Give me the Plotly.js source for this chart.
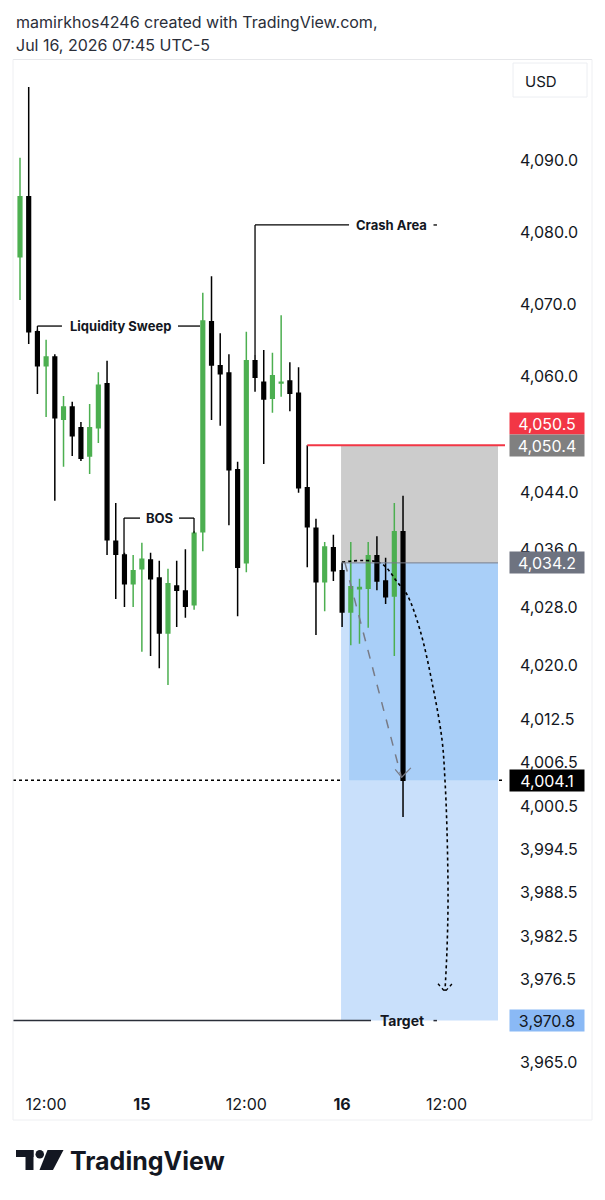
<!DOCTYPE html>
<html><head><meta charset="utf-8">
<script src="https://cdn.plot.ly/plotly-3.0.1.min.js"></script>
<style>html,body{margin:0;padding:0;background:#fff}#chart{width:605px;height:1200px}</style>
</head><body><div id="chart"></div>
<script>
// ---- Data (hourly candles) ----
const candleIndex = [0,1,2,3,4,5,6,7,8,9,10,11,12,13,14,15,16,17,18,19,20,21,22,23,24,25,26,27,28,29,30,31,32,33,34,35,36,37,38,39,40,41,42,43,44];
const openP  = [4076.6,4084.9,4066.2,4061.5,4062.7,4054.1,4055.8,4052.9,4049.0,4052.9,4059.0,4037.2,4035.3,4031.3,4033.4,4034.6,4032.1,4024.5,4031.0,4030.3,4028.4,4038.5,4067.6,4061.5,4060.5,4047.1,4034.2,4062.2,4059.2,4057.0,4059.1,4059.4,4057.7,4044.6,4039.0,4031.6,4036.3,4033.1,4027.4,4030.6,4030.7,4035.2,4031.7,4029.6,4038.5];
const highP  = [4090.3,4100.1,4066.5,4065.1,4063.1,4057.3,4056.5,4053.7,4056.2,4060.6,4062.2,4042.5,4035.6,4035.3,4037.0,4035.6,4034.5,4033.4,4034.5,4036.1,4038.6,4071.6,4073.9,4066.0,4063.1,4048.2,4066.2,4063.0,4063.7,4063.3,4068.5,4062.0,4061.3,4050.5,4040.3,4037.1,4038.1,4034.2,4037.1,4032.0,4037.1,4037.9,4034.9,4042.5,4043.5];
const lowP   = [4070.6,4064.5,4057.6,4054.4,4042.8,4047.5,4049.0,4048.3,4046.5,4050.8,4035.3,4029.2,4028.1,4028.1,4021.9,4021.3,4019.6,4017.3,4025.3,4026.6,4027.7,4035.8,4054.0,4053.2,4039.4,4026.8,4032.9,4057.9,4047.9,4055.0,4057.2,4055.2,4043.9,4033.6,4024.2,4027.5,4031.7,4025.3,4022.8,4023.0,4025.2,4030.4,4028.5,4021.3,3999.0];
const closeP = [4084.9,4066.2,4061.5,4062.7,4054.3,4055.8,4051.8,4048.7,4052.9,4058.8,4037.4,4035.4,4031.3,4033.1,4034.7,4032.0,4024.5,4031.3,4030.4,4028.2,4038.3,4067.7,4061.6,4060.4,4047.1,4033.6,4062.2,4059.9,4056.9,4060.1,4059.2,4057.7,4044.6,4039.2,4031.6,4036.4,4033.1,4027.4,4030.9,4030.8,4035.2,4031.7,4029.5,4038.5,4004.1];

const timeTickVals = [3,14,26,37,49];
const timeTickText = ['12:00','<b>15</b>','12:00','<b>16</b>','12:00'];

const priceTickVals = [4090,4080,4070,4060,4044,4036,4028,4020,4012.5,4006.5,4000.5,3994.5,3988.5,3982.5,3976.5,3965];
const priceTickText = ['4,090.0','4,080.0','4,070.0','4,060.0','4,044.0','4,036.0','4,028.0','4,020.0','4,012.5','4,006.5','4,000.5','3,994.5','3,988.5','3,982.5','3,976.5','3,965.0'];

// Position tool levels
const alertPrice = 4050.5;
const stopPrice = 4050.4;
const entryPrice = 4034.2;
const lastPrice = 4004.1;
const targetPrice = 3970.8;
const toolStart = 36.88, toolFill = 37.8, toolEnd = 54.91;

// Hand-drawn projection paths (index, price)
const curveX = [36.99,41.36,43.42,44.46,45.95,47.44,48.48,48.82,49.05,49.17,49.05,48.82];
const curveY = [4034.3,4034.2,4031.4,4029.8,4024.9,4017.0,4009.7,4004.1,3997.2,3987.5,3980.6,3974.9];
const curveHeadX = [48.02,48.82,49.63];
const curveHeadY = [3975.9,3974.8,3975.9];
const dashX = [37.33,43.77];
const dashY = [4034.2,4004.7];
const dashHeadX = [43.1,43.85,44.9];
const dashHeadY = [4005.6,4004.5,4005.8];

// Labels
const sweepLevel = 4067.0, bosLevel = 4040.4, crashLevel = 4081.0;

// ---- Chart ----
const INK = '#131722';
const FONT = 'Inter, Roboto, sans-serif';
const px2x = p => (p - 13) / 492;
const py2y = p => (1085 - p) / 1025;

const traces = [
  {
    type: 'candlestick', x: candleIndex, open: openP, high: highP, low: lowP, close: closeP,
    increasing: {line: {color: '#4caf50', width: 1.5}, fillcolor: '#4caf50'},
    decreasing: {line: {color: '#000000', width: 1.5}, fillcolor: '#000000'},
    whiskerwidth: 0, hoverinfo: 'skip', showlegend: false
  },
  {type: 'scatter', mode: 'lines', x: dashX, y: dashY, line: {color: '#787b86', width: 1.5, dash: 'dash'}, hoverinfo: 'skip', showlegend: false},
  {type: 'scatter', mode: 'lines', x: dashHeadX, y: dashHeadY, line: {color: '#787b86', width: 1.2}, hoverinfo: 'skip', showlegend: false},
  {type: 'scatter', mode: 'lines', x: curveX, y: curveY, line: {color: '#000000', width: 1.6, dash: 'dot', shape: 'spline', smoothing: 1}, hoverinfo: 'skip', showlegend: false},
  {type: 'scatter', mode: 'lines', x: curveHeadX, y: curveHeadY, line: {color: '#000000', width: 1.4, dash: 'dot'}, hoverinfo: 'skip', showlegend: false}
];

const shapes = [
  // position tool boxes
  {type: 'rect', xref: 'x', yref: 'y', x0: toolStart, x1: toolEnd, y0: entryPrice, y1: stopPrice, fillcolor: '#cccccc', line: {width: 0}, layer: 'below'},
  {type: 'rect', xref: 'x', yref: 'y', x0: toolStart, x1: toolEnd, y0: targetPrice, y1: entryPrice, fillcolor: '#c9e0fb', line: {width: 0}, layer: 'below'},
  {type: 'rect', xref: 'x', yref: 'y', x0: toolFill, x1: toolEnd, y0: lastPrice, y1: entryPrice, fillcolor: '#a9cff8', line: {width: 0}, layer: 'below'},
  {type: 'line', xref: 'x', yref: 'y', x0: toolStart, x1: toolEnd, y0: entryPrice, y1: entryPrice, line: {color: '#787b86', width: 1}},
  // alert line
  {type: 'line', xref: 'x', yref: 'y', x0: 33, x1: 55.72, y0: alertPrice, y1: alertPrice, line: {color: '#f23645', width: 2}},
  // last price dotted line
  {type: 'line', xref: 'paper', yref: 'y', x0: 0, x1: 1, y0: lastPrice, y1: lastPrice, line: {color: '#000000', width: 1.4, dash: 'dot'}, layer: 'below'},
  // target line
  {type: 'line', xref: 'paper', yref: 'y', x0: 0, x1: px2x(371), y0: targetPrice, y1: targetPrice, line: {color: '#2a2e39', width: 1.5}},
  {type: 'line', xref: 'x', yref: 'y', x0: 47.5, x1: 47.9, y0: targetPrice, y1: targetPrice, line: {color: '#2a2e39', width: 1.5}},
  // liquidity sweep bracket
  {type: 'line', xref: 'x', yref: 'y', x0: 2.0, x1: 2.0, y0: 4066.3, y1: sweepLevel, line: {color: '#000', width: 1.3}},
  {type: 'line', xref: 'x', yref: 'y', x0: 2.0, x1: 4.82, y0: sweepLevel, y1: sweepLevel, line: {color: '#000', width: 1.3}},
  {type: 'line', xref: 'x', yref: 'y', x0: 18.15, x1: 20.68, y0: sweepLevel, y1: sweepLevel, line: {color: '#000', width: 1.3}},
  // BOS bracket
  {type: 'line', xref: 'x', yref: 'y', x0: 11.95, x1: 11.95, y0: 4035.3, y1: bosLevel, line: {color: '#000', width: 1.3}},
  {type: 'line', xref: 'x', yref: 'y', x0: 11.95, x1: 13.79, y0: bosLevel, y1: bosLevel, line: {color: '#000', width: 1.3}},
  {type: 'line', xref: 'x', yref: 'y', x0: 18.27, x1: 19.99, y0: bosLevel, y1: bosLevel, line: {color: '#000', width: 1.3}},
  {type: 'line', xref: 'x', yref: 'y', x0: 19.99, x1: 19.99, y0: 4038.3, y1: bosLevel, line: {color: '#000', width: 1.3}},
  // crash area bracket
  {type: 'line', xref: 'x', yref: 'y', x0: 27.0, x1: 27.0, y0: 4063.0, y1: crashLevel, line: {color: '#000', width: 1.3}},
  {type: 'line', xref: 'x', yref: 'y', x0: 27.0, x1: 37.8, y0: crashLevel, y1: crashLevel, line: {color: '#000', width: 1.3}},
  {type: 'line', xref: 'x', yref: 'y', x0: 47.5, x1: 47.9, y0: crashLevel, y1: crashLevel, line: {color: '#000', width: 1.3}},
  // frame
  {type: 'line', xref: 'paper', yref: 'paper', x0: 0, x1: px2x(592), y0: py2y(59.5), y1: py2y(59.5), line: {color: '#e6e7ea', width: 1}},
  {type: 'line', xref: 'paper', yref: 'paper', x0: 0, x1: 0, y0: py2y(59.5), y1: py2y(1120), line: {color: '#eeeff2', width: 1}},
  {type: 'line', xref: 'paper', yref: 'paper', x0: px2x(592), x1: px2x(592), y0: py2y(59.5), y1: py2y(1120), line: {color: '#eeeff2', width: 1}},
  {type: 'line', xref: 'paper', yref: 'paper', x0: 0, x1: px2x(592), y0: py2y(1120), y1: py2y(1120), line: {color: '#eeeff2', width: 1}},
  // USD box
  {type: 'rect', xref: 'paper', yref: 'paper', x0: px2x(513), x1: px2x(587), y0: py2y(97), y1: py2y(63), fillcolor: 'rgba(0,0,0,0)', line: {color: '#eceef2', width: 1}},
  // TradingView logo
  {type: 'rect', xref: 'paper', yref: 'paper', x0: px2x(16), x1: px2x(33.5), y0: py2y(1157), y1: py2y(1150), fillcolor: INK, line: {width: 0}},
  {type: 'rect', xref: 'paper', yref: 'paper', x0: px2x(25.5), x1: px2x(33.5), y0: py2y(1170), y1: py2y(1150), fillcolor: INK, line: {width: 0}},
  {type: 'circle', xref: 'paper', yref: 'paper', x0: px2x(35.5), x1: px2x(44), y0: py2y(1158.5), y1: py2y(1150), fillcolor: INK, line: {width: 0}},
  {type: 'path', xref: 'paper', yref: 'paper', path: `M ${px2x(47.5)} ${py2y(1150)} L ${px2x(63.5)} ${py2y(1150)} L ${px2x(53)} ${py2y(1170)} L ${px2x(39.5)} ${py2y(1170)} Z`, fillcolor: INK, line: {width: 0}}
];

function badge(y, text, bg, color, yshift) {
  return {xref: 'paper', yref: 'y', x: px2x(547), y: y, xanchor: 'center', yanchor: 'middle',
    text: text, showarrow: false,
    font: {family: FONT, size: 16, color: color}, bgcolor: bg, width: 74, height: 21,
    align: 'center', yshift: yshift || 0, borderpad: 0};
}
function label(x, y, text, size) {
  return {xref: 'x', yref: 'y', x: x, y: y, xanchor: 'center', yanchor: 'middle',
    text: '<b>' + text + '</b>', showarrow: false,
    font: {family: FONT, size: size || 13, color: INK}};
}

const annotations = [
  {xref: 'paper', yref: 'paper', x: px2x(14), y: py2y(22), xanchor: 'left', yanchor: 'middle', showarrow: false,
   text: 'mamirkhos4246 created with TradingView.com,', font: {family: FONT, size: 16, color: '#2a2e39'}},
  {xref: 'paper', yref: 'paper', x: px2x(14), y: py2y(45), xanchor: 'left', yanchor: 'middle', showarrow: false,
   text: 'Jul 16, 2026 07:45 UTC-5', font: {family: FONT, size: 16, color: '#2a2e39'}},
  {xref: 'paper', yref: 'paper', x: px2x(541), y: py2y(81), xanchor: 'center', yanchor: 'middle', showarrow: false, text: 'USD',
   font: {family: FONT, size: 15, color: INK}},
  {xref: 'paper', yref: 'paper', x: px2x(68), y: py2y(1161), xanchor: 'left', yanchor: 'middle', showarrow: false,
   text: '<b>TradingView</b>', font: {family: FONT, size: 25, color: INK}},
  label(11.49, sweepLevel, 'Liquidity Sweep'),
  label(15.97, bosLevel, 'BOS'),
  label(42.62, crashLevel, 'Crash Area'),
  label(43.88, targetPrice, 'Target', 14),
  badge(alertPrice, '4,050.5', '#f23645', '#ffffff', 22),
  badge(stopPrice, '4,050.4', '#808080', '#ffffff', 0),
  badge(entryPrice, '4,034.2', '#6e7380', '#ffffff', 0),
  badge(lastPrice, '4,004.1', '#000000', '#ffffff', 0),
  badge(targetPrice, '3,970.8', '#8ab9f5', INK, 0)
];

const layout = {
  width: 605, height: 1200,
  margin: {l: 13, r: 100, t: 60, b: 115},
  paper_bgcolor: '#ffffff', plot_bgcolor: '#ffffff',
  showlegend: false, boxgap: 0.4,
  xaxis: {
    range: [-0.804, 55.715], showgrid: false, zeroline: false, showline: false,
    tickmode: 'array', tickvals: timeTickVals, ticktext: timeTickText, ticks: '',
    tickfont: {family: FONT, size: 16, color: INK}, ticklabelstandoff: 8,
    rangeslider: {visible: false}, fixedrange: true
  },
  yaxis: {
    side: 'right', range: [3961.88, 4103.85], showgrid: false, zeroline: false, showline: false,
    tickmode: 'array', tickvals: priceTickVals, ticktext: priceTickText, ticks: '',
    tickfont: {family: FONT, size: 16, color: INK}, ticklabelstandoff: 14, fixedrange: true
  },
  shapes: shapes,
  annotations: annotations
};

Plotly.newPlot('chart', traces, layout, {staticPlot: true, displayModeBar: false});
</script>
</body></html>
